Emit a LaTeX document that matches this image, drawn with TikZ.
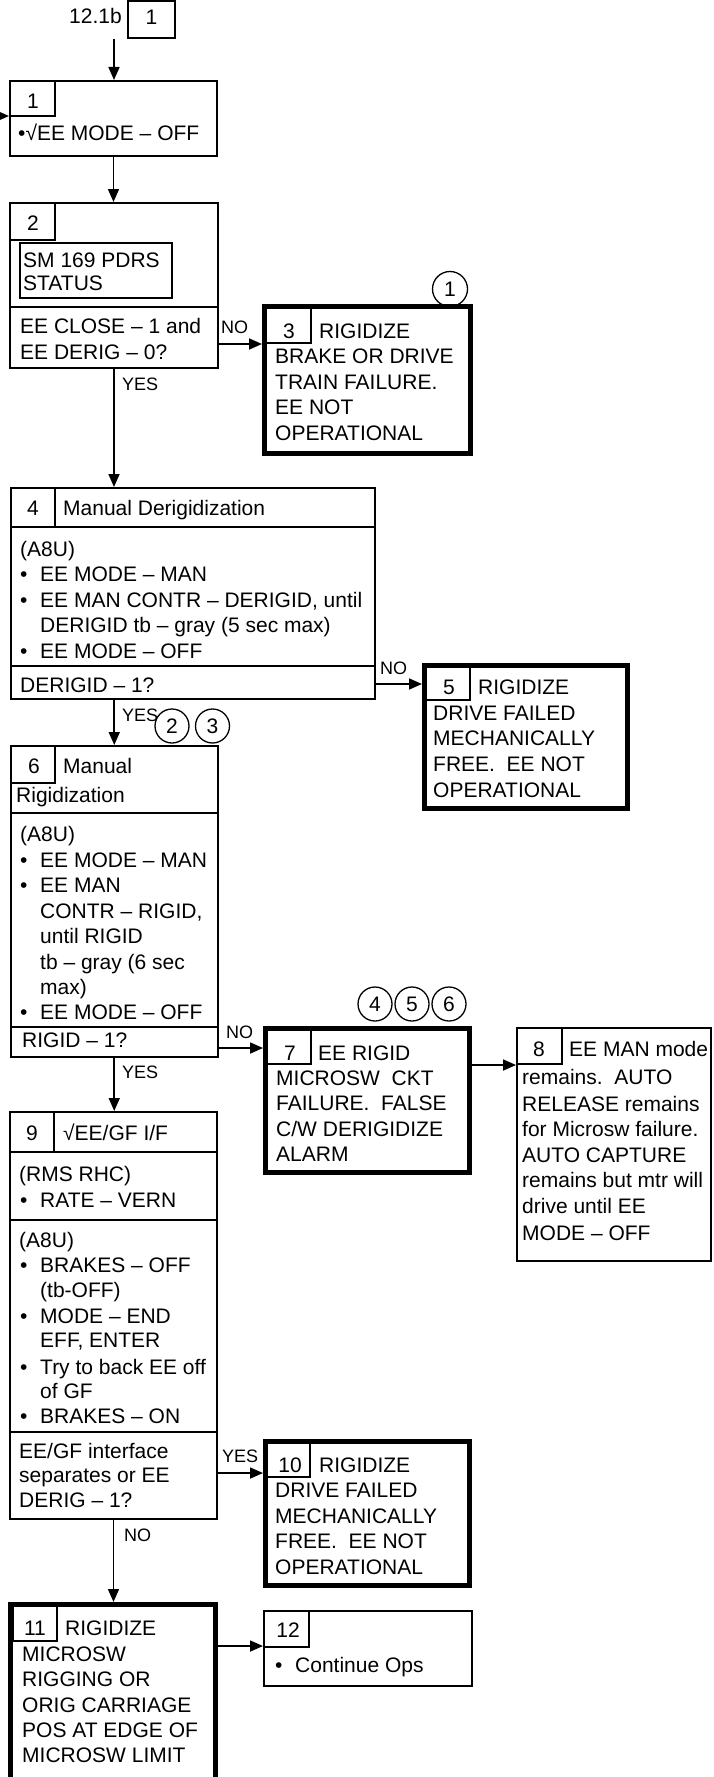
\documentclass[tikz,border=0pt]{standalone}
\usepackage{fontspec}
\setmainfont{Liberation Sans}
\usetikzlibrary{arrows.meta,fit}
\newcommand\tline[4]{\node[txt] (#1) at (#2,#3) {#4};}
\newcommand\bline[4]{\node[txt] (#1) at (#2,#3) {•};\node[txt] (#1t) at (#2+20,#3) {#4};}
\newcommand\numat[4]{\node[num] (#1) at (#2,#3) {#4};}
\begin{document}
\begin{tikzpicture}[x=1pt,y=-1pt,
  thinbox/.style={draw,line width=2pt,inner sep=0pt},
  thickbox/.style={draw,line width=5pt,inner sep=0pt},
  subl/.style={line width=1.3pt},
  divl/.style={line width=2pt},
  txt/.style={font=\fontsize{21}{25}\selectfont,inner sep=0pt,anchor=base west},
  num/.style={txt,anchor=base},
  lbl/.style={font=\fontsize{18}{20}\selectfont,inner sep=0pt,anchor=base west},
  circ/.style={draw,circle,line width=1.3pt,inner sep=0pt,font=\fontsize{21}{25}\selectfont},
  arr/.style={line width=1.7pt,-{Triangle[length=13pt,width=11pt]}}]
\useasboundingbox (0,0) rectangle (713,1777);

% top reference
\node[txt,anchor=base east] (ref) at (122,24) {12.1b};
\node[thinbox,line width=1.3pt,fit={(128,1) (175,38)}] (top) {};
\numat{topn}{151.5}{25}{1}
\coordinate (s0) at (114,39);
\coordinate (lin) at (0,116);

% box 1
\node[thinbox,fit={(10,81) (217,156)}] (b1) {};
\draw[subl] (10,81) rectangle (55,116);
\numat{n1}{33}{108}{1}
\tline{t1}{18}{140}{•√EE MODE – OFF}

% box 2
\node[thinbox,fit={(10,203) (218,368)}] (b2) {};
\draw[subl] (10,203) rectangle (55,240);
\numat{n2}{33}{230}{2}
\draw[subl] (20,243) rectangle (172,298);
\tline{t2a}{23}{267}{SM 169 PDRS}
\tline{t2b}{23}{290}{STATUS}
\draw[divl] (10,307) -- (218,307);
\tline{t2c}{20}{333}{EE CLOSE – 1 and}
\tline{t2d}{20}{359}{EE DERIG – 0?}

% box 3
\node[thickbox,fit={(264.5,306.5) (470.5,453.5)}] (b3) {};
\draw[subl] (266,308) rectangle (311,343);
\numat{n3}{289}{338}{3}
\tline{t3a}{319}{338}{RIGIDIZE}
\tline{t3b}{275}{363}{BRAKE OR DRIVE}
\tline{t3c}{275}{389}{TRAIN FAILURE.}
\tline{t3d}{275}{414}{EE NOT}
\tline{t3e}{275}{440}{OPERATIONAL}
\node[circ,minimum size=35pt] (c1) at (450,289) {1};

% box 4
\node[thinbox,fit={(11,488) (375,699)}] (b4) {};
\draw[subl] (55,488) -- (55,527);
\draw[divl] (11,527) -- (375,527);
\numat{n4}{33}{515}{4}
\tline{t4a}{63}{515}{Manual Derigidization}
\tline{t4b}{20}{556}{(A8U)}
\bline{t4c}{20}{581}{EE MODE – MAN}
\bline{t4d}{20}{607}{EE MAN CONTR – DERIGID, until}
\tline{t4e}{40}{632}{DERIGID tb – gray (5 sec max)}
\bline{t4f}{20}{658}{EE MODE – OFF}
\draw[divl] (11,666) -- (375,666);
\tline{t4g}{20}{692}{DERIGID – 1?}

% box 5
\node[thickbox,fit={(424.5,665.5) (627.5,808.5)}] (b5) {};
\draw[subl] (426,667) rectangle (470,700);
\numat{n5}{449}{694}{5}
\tline{t5a}{478}{694}{RIGIDIZE}
\tline{t5b}{433}{720}{DRIVE FAILED}
\tline{t5c}{433}{745}{MECHANICALLY}
\tline{t5d}{433}{771}{FREE.~~EE NOT}
\tline{t5e}{433}{797}{OPERATIONAL}

\node[circ,minimum size=34pt] (c2) at (172,726) {2};
\node[circ,minimum size=34pt] (c3) at (212.5,726) {3};

% box 6
\node[thinbox,fit={(10.5,746) (218,1057)}] (b6) {};
\draw[subl] (10.5,746) rectangle (55,783);
\numat{n6}{34}{773}{6}
\tline{t6a}{63}{773}{Manual}
\tline{t6b}{16}{802}{Rigidization}
\draw[divl] (10.5,813) -- (218,813);
\tline{t6c}{20}{841}{(A8U)}
\bline{t6d}{20}{867}{EE MODE – MAN}
\bline{t6e}{20}{892}{EE MAN}
\tline{t6f}{40}{918}{CONTR – RIGID,}
\tline{t6g}{40}{943}{until RIGID}
\tline{t6h}{40}{969}{tb – gray (6 sec}
\tline{t6i}{40}{994}{max)}
\bline{t6j}{20}{1019}{EE MODE – OFF}
\draw[divl] (10.5,1027) -- (218,1027);
\tline{t6k}{22}{1047}{RIGID – 1?}

% box 7
\node[thickbox,fit={(265.5,1028.5) (469.5,1172.5)}] (b7) {};
\draw[subl] (267,1030) rectangle (311,1064);
\numat{n7}{290}{1060}{7}
\tline{t7a}{318}{1060}{EE RIGID}
\tline{t7b}{276}{1085}{MICROSW~~CKT}
\tline{t7c}{276}{1110}{FAILURE.~~FALSE}
\tline{t7d}{276}{1136}{C/W DERIGIDIZE}
\tline{t7e}{276}{1161}{ALARM}
\node[circ,minimum size=34pt] (c4) at (375,1004) {4};
\node[circ,minimum size=34pt] (c5) at (412,1004) {5};
\node[circ,minimum size=34pt] (c6) at (449,1004) {6};

% box 8
\node[thinbox,fit={(517,1028) (711,1261)}] (b8) {};
\draw[subl] (517,1028) rectangle (562,1064);
\numat{n8}{539}{1056}{8}
\tline{t8a}{569}{1056}{EE MAN mode}
\tline{t8b}{522}{1084}{remains.~~AUTO}
\tline{t8c}{522}{1111}{RELEASE remains}
\tline{t8d}{522}{1136}{for Microsw failure.}
\tline{t8e}{522}{1162}{AUTO CAPTURE}
\tline{t8f}{522}{1187}{remains but mtr will}
\tline{t8g}{522}{1213}{drive until EE}
\tline{t8h}{522}{1240}{MODE – OFF}

% box 9
\node[thinbox,fit={(10,1112) (217,1519)}] (b9) {};
\draw[subl] (54,1112) -- (54,1152);
\draw[divl] (10,1152) -- (217,1152);
\numat{n9}{32}{1140}{9}
\tline{t9a}{63}{1140}{√EE/GF I/F}
\tline{t9b}{19}{1181}{(RMS RHC)}
\bline{t9c}{20}{1207}{RATE – VERN}
\draw[divl] (10,1220) -- (217,1220);
\tline{t9d}{19}{1247}{(A8U)}
\bline{t9e}{20}{1272}{BRAKES – OFF}
\tline{t9f}{40}{1297}{(tb-OFF)}
\bline{t9g}{20}{1323}{MODE – END}
\tline{t9h}{40}{1347}{EFF, ENTER}
\bline{t9i}{20}{1374}{Try to back EE off}
\tline{t9j}{40}{1398}{of GF}
\bline{t9k}{20}{1423}{BRAKES – ON}
\draw[divl] (10,1432) -- (217,1432);
\tline{t9l}{19}{1458}{EE/GF interface}
\tline{t9m}{19}{1482}{separates or EE}
\tline{t9n}{19}{1507}{DERIG – 1?}

% box 10
\node[thickbox,fit={(265.5,1441.5) (469.5,1585.5)}] (b10) {};
\draw[subl] (267,1443) rectangle (310,1477);
\numat{n10}{290}{1472}{10}
\tline{t10a}{319}{1472}{RIGIDIZE}
\tline{t10b}{275}{1497}{DRIVE FAILED}
\tline{t10c}{275}{1523}{MECHANICALLY}
\tline{t10d}{275}{1548}{FREE.~~EE NOT}
\tline{t10e}{275}{1574}{OPERATIONAL}

% box 11
\node[thickbox,fit={(10.5,1604.5) (215.5,1782)}] (b11) {};
\draw[subl] (13,1606) rectangle (57,1641);
\numat{n11}{35}{1635}{11}
\tline{t11a}{65}{1635}{RIGIDIZE}
\tline{t11b}{22}{1661}{MICROSW}
\tline{t11c}{22}{1686}{RIGGING OR}
\tline{t11d}{22}{1712}{ORIG CARRIAGE}
\tline{t11e}{22}{1737}{POS AT EDGE OF}
\tline{t11f}{22}{1762}{MICROSW LIMIT}

% box 12
\node[thinbox,fit={(264,1611) (472,1686)}] (b12) {};
\draw[subl] (264,1611) rectangle (309,1647);
\numat{n12}{288}{1637}{12}
\bline{t12a}{275}{1672}{Continue Ops}

% connector levels
\coordinate (y3) at (0,344);
\coordinate (y5) at (0,684);
\coordinate (y7) at (0,1048);
\coordinate (y8) at (0,1065);
\coordinate (y10) at (0,1473);
\coordinate (y12) at (0,1646);

% connectors
\draw[arr] (s0) -- (s0 |- b1.north);
\draw[arr] (lin) -- (b1.west |- lin);
\draw[arr] (b1.south) -- (b1.south |- b2.north);
\draw[arr] (b2.east |- y3) -- (b3.west |- y3);
\draw[arr] (b2.south) -- (b2.south |- b4.north);
\draw[arr] (b4.east |- y5) -- (b5.west |- y5);
\draw[arr] (b6.north |- b4.south) -- (b6.north);
\draw[arr] (b6.east |- y7) -- (b7.west |- y7);
\draw[arr] (b7.east |- y8) -- (b8.west |- y8);
\draw[arr] (b6.south) -- (b6.south |- b9.north);
\draw[arr] (b9.east |- y10) -- (b10.west |- y10);
\draw[arr] (b9.south) -- (b9.south |- b11.north);
\draw[arr] (b11.east |- y12) -- (b12.west |- y12);

% labels
\node[lbl] (l1) at (221,333) {NO};
\node[lbl] (l2) at (122,390) {YES};
\node[lbl] (l3) at (380,674) {NO};
\node[lbl] (l4) at (122,721) {YES};
\node[lbl] (l5) at (226,1038) {NO};
\node[lbl] (l6) at (122,1078) {YES};
\node[lbl] (l7) at (222,1462) {YES};
\node[lbl] (l8) at (124,1541) {NO};
\end{tikzpicture}
\end{document}
